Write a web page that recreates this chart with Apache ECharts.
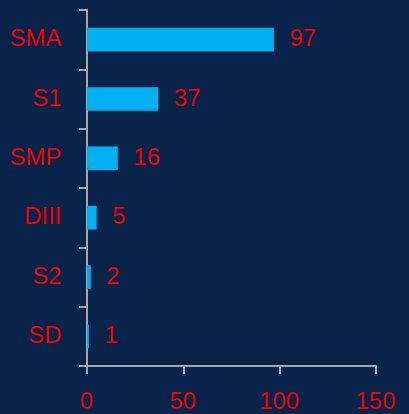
<!DOCTYPE html>
<html>
<head>
<meta charset="utf-8">
<script src="https://cdn.jsdelivr.net/npm/echarts@6/dist/echarts.min.js"></script>
<style>
  html, body { margin: 0; padding: 0; background: #08244a; }
  #main { width: 409px; height: 414px; }
</style>
</head>
<body>
<div id="main"></div>
<script>
// 类别和数值
const categories = ['SMA', 'S1', 'SMP', 'DIII', 'S2', 'SD']
const values = [97, 37, 16, 5, 2, 1]
const xTicks = [0, 50, 100, 150]

const axisColor = '#a6a6a6'
const textColor = '#ff0000'
const fontFamily = '"Liberation Sans", Arial, sans-serif'

const myChart = echarts.init(document.getElementById('main'))
const option = {
  backgroundColor: '#08244a',
  animation: false,
  grid: {
    left: 87,
    right: 33,
    top: 10,
    bottom: 47
  },
  xAxis: {
    type: 'value',
    min: xTicks[0],
    max: xTicks[xTicks.length - 1],
    interval: 50,
    axisLine: { show: true, lineStyle: { color: axisColor, width: 2 } },
    axisTick: { show: true, length: 8, lineStyle: { color: axisColor, width: 2 } },
    splitLine: { show: false },
    axisLabel: {
      color: textColor,
      fontSize: 24,
      fontFamily: fontFamily,
      margin: 24
    }
  },
  yAxis: {
    type: 'category',
    inverse: true,
    data: categories,
    axisLine: { show: true, lineStyle: { color: axisColor, width: 2 } },
    axisTick: { show: true, length: 8, lineStyle: { color: axisColor, width: 2 } },
    axisLabel: {
      color: textColor,
      fontSize: 24,
      fontFamily: fontFamily,
      margin: 25
    }
  },
  series: [
    {
      type: 'bar',
      data: values,
      barWidth: '40%',
      itemStyle: { color: '#00b0f0' },
      label: {
        show: true,
        position: 'right',
        distance: 16,
        color: textColor,
        fontSize: 24,
        fontFamily: fontFamily
      }
    }
  ]
}
myChart.setOption(option, true)
</script>
</body>
</html>
